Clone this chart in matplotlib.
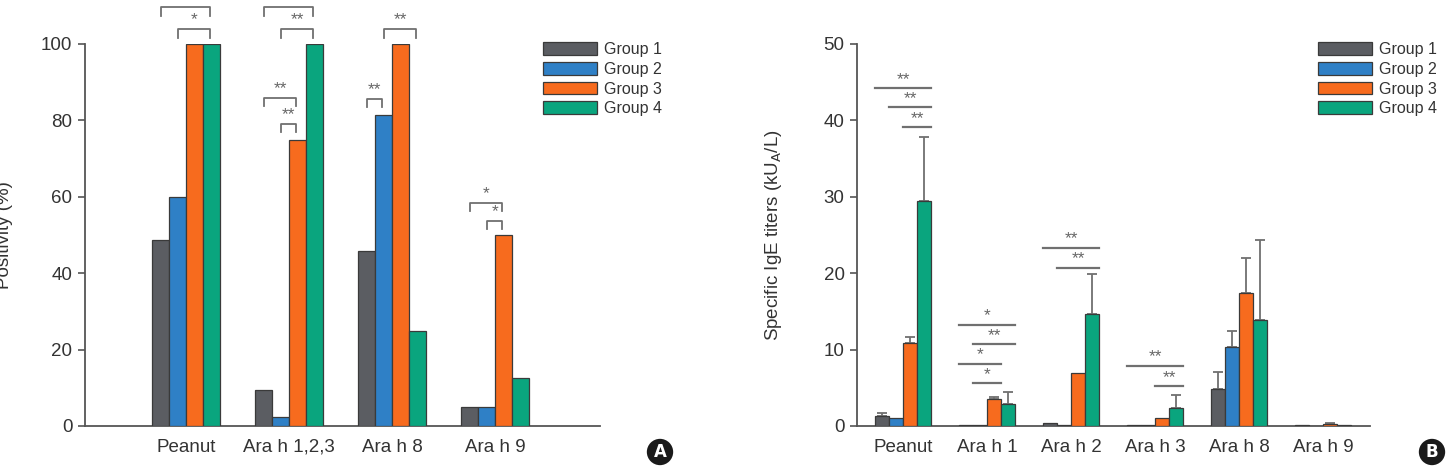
import numpy as np
import matplotlib
matplotlib.use("Agg")
import matplotlib.pyplot as plt
from matplotlib.patches import Patch

plt.rcParams["font.family"] = ["Liberation Sans Narrow", "Liberation Sans", "DejaVu Sans"]
plt.rcParams["mathtext.default"] = "regular"

groups = ["Group 1", "Group 2", "Group 3", "Group 4"]
colors = ["#5b5d62", "#2f80c6", "#f76b1e", "#0aa57e"]

# panel A: positivity (%)
cats_a = ["Peanut", "Ara h 1,2,3", "Ara h 8", "Ara h 9"]
pos_g1 = [48.6, 9.4, 45.7, 5.0]
pos_g2 = [60.0, 2.4, 81.5, 5.0]
pos_g3 = [100.0, 75.0, 100.0, 50.0]
pos_g4 = [100.0, 100.0, 25.0, 12.5]
# (category, group from, group to, height, label)
sig_a = [(0, 0, 3, 109.6, "*"), (0, 1, 3, 103.9, "*"),
         (1, 0, 3, 109.6, "**"), (1, 1, 3, 103.9, "**"),
         (1, 0, 2, 85.9, "**"), (1, 1, 2, 79.1, "**"),
         (2, 1, 3, 103.9, "**"), (2, 0, 1, 85.6, "**"),
         (3, 0, 2, 58.4, "*"), (3, 1, 2, 53.7, "*")]

# panel B: specific IgE titers
cats_b = ["Peanut", "Ara h 1", "Ara h 2", "Ara h 3", "Ara h 8", "Ara h 9"]
ige_g1 = [1.3, 0.1, 0.35, 0.1, 4.9, 0.1]
ige_g2 = [1.0, 0.1, 0.1, 0.1, 10.3, 0.05]
ige_g3 = [10.9, 3.5, 7.0, 1.1, 17.4, 0.3]
ige_g4 = [29.4, 2.9, 14.6, 2.3, 13.85, 0.15]
err_g1 = [0.4, 0, 0, 0, 2.2, 0]
err_g2 = [0, 0, 0, 0, 2.2, 0]
err_g3 = [0.8, 0.3, 0, 0, 4.6, 0.15]
err_g4 = [8.4, 1.5, 5.3, 1.7, 10.55, 0]
sig_b = [(0, 0, 3, 44.2, "**"), (0, 1, 3, 41.7, "**"), (0, 2, 3, 39.1, "**"),
         (1, 0, 3, 13.2, "*"), (1, 1, 3, 10.7, "**"), (1, 0, 2, 8.1, "*"), (1, 1, 2, 5.6, "*"),
         (2, 0, 3, 23.3, "**"), (2, 1, 3, 20.7, "**"),
         (3, 0, 3, 7.85, "**"), (3, 2, 3, 5.2, "**")]

gray = "#707070"
edge = "#3a3a3a"

fig = plt.figure(figsize=(14.52, 4.74), dpi=100)


def style(ax):
    for s in ["top", "right"]:
        ax.spines[s].set_visible(False)
    for s in ["left", "bottom"]:
        ax.spines[s].set_color("#555555")
        ax.spines[s].set_linewidth(1.3)
    ax.tick_params(axis="y", direction="out", length=5, width=1.2, color="#555555",
                   labelsize=13.5, labelcolor="#333333", pad=4)
    ax.tick_params(axis="x", length=0, labelsize=13.5, labelcolor="#333333", pad=9)


def legend(ax, x):
    handles = [Patch(facecolor=c, edgecolor=edge, linewidth=0.9) for c in colors]
    ax.legend(handles, groups, loc="upper left", bbox_to_anchor=(x, 1 - 42 / 474),
              bbox_transform=fig.transFigure, frameon=False, fontsize=11.5,
              handlelength=3.4, handleheight=0.85, labelspacing=0.3,
              handletextpad=0.45, borderpad=0, borderaxespad=0, labelcolor="#333333")


def badge(x, y, s):
    fig.text(x, y, s, ha="center", va="center", fontsize=12, fontweight="bold",
             color="white", family="DejaVu Sans",
             bbox=dict(boxstyle="circle,pad=0.25", fc="#1a1a1a", ec="none"))


# ---- A ----
axa = fig.add_axes([85 / 1452, 48 / 474, 515 / 1452, 382 / 474])
w = 0.165
x = np.arange(len(cats_a))
for i, vals in enumerate([pos_g1, pos_g2, pos_g3, pos_g4]):
    axa.bar(x + (i - 1.5) * w, vals, w, color=colors[i], edgecolor=edge, linewidth=0.9, zorder=3)
axa.set_xlim(-0.98, 4.02)
axa.set_ylim(0, 100)
axa.set_yticks([0, 20, 40, 60, 80, 100])
axa.set_xticks(x)
axa.set_xticklabels(cats_a)
style(axa)
axa.set_ylabel("Positivity (%)", fontsize=13.5, color="#333333", family="Liberation Sans")
axa.yaxis.set_label_coords(-72 / 515, 0.5)
for c, g0, g1, h, lab in sig_a:
    x0 = c + (g0 - 1.5) * w + 0.01
    x1 = c + (g1 - 1.5) * w - 0.01
    axa.plot([x0, x0, x1, x1], [h - 2.2, h, h, h - 2.2], color=gray, lw=1.3, clip_on=False)
    axa.text((x0 + x1) / 2, h + 0.4, lab, ha="center", va="bottom", fontsize=12.5,
             color="#666666", clip_on=False)
legend(axa, 543 / 1452)
badge(660 / 1452, 1 - 452 / 474, "A")

# ---- B ----
axb = fig.add_axes([857 / 1452, 48 / 474, 513 / 1452, 382 / 474])
wb = 0.1667
xb = np.arange(len(cats_b))
vals_b = [ige_g1, ige_g2, ige_g3, ige_g4]
errs_b = [err_g1, err_g2, err_g3, err_g4]
for i in range(4):
    pos = xb + (i - 1.5) * wb
    axb.bar(pos, vals_b[i], wb, color=colors[i], edgecolor=edge, linewidth=0.9, zorder=3)
    e = np.array(errs_b[i], dtype=float)
    m = e > 0
    axb.errorbar(pos[m], np.array(vals_b[i])[m], yerr=[np.zeros(m.sum()), e[m]], fmt="none",
                 ecolor=gray, elinewidth=1.3, capsize=3.5, capthick=1.3, zorder=2)
axb.set_xlim(-0.55, 5.56)
axb.set_ylim(0, 50)
axb.set_yticks([0, 10, 20, 30, 40, 50])
axb.set_xticks(xb)
axb.set_xticklabels(cats_b)
style(axb)
axb.set_ylabel("Specific IgE titers (kU$_\\mathrm{A}$/L)", fontsize=13.5, color="#333333",
               family="Liberation Sans")
axb.yaxis.set_label_coords(-73 / 513, 0.5)
for c, g0, g1, h, lab in sig_b:
    x0 = c + (g0 - 2) * wb
    x1 = c + (g1 - 1) * wb
    axb.plot([x0, x1], [h, h], color=gray, lw=1.6, clip_on=False)
    axb.text((x0 + x1) / 2, h + 0.2, lab, ha="center", va="bottom", fontsize=12.5,
             color="#666666", clip_on=False)
legend(axb, 1318 / 1452)
badge(1432 / 1452, 1 - 452 / 474, "B")

fig.savefig("out.png", dpi=100)
